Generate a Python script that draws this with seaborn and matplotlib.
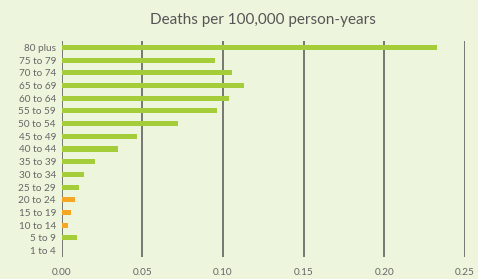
import pandas as pd
import matplotlib.pyplot as plt
import seaborn as sns

ages = ['80 plus', '75 to 79', '70 to 74', '65 to 69', '60 to 64', '55 to 59',
        '50 to 54', '45 to 49', '40 to 44', '35 to 39', '30 to 34', '25 to 29',
        '20 to 24', '15 to 19', '10 to 14', '5 to 9', '1 to 4']
deaths = [0.2327, 0.0951, 0.1056, 0.1131, 0.1038, 0.0963, 0.0722, 0.0468,
          0.0350, 0.0208, 0.0139, 0.0108, 0.0084, 0.0059, 0.0040, 0.0096, 0.0]
highlight = ['20 to 24', '15 to 19', '10 to 14']

df = pd.DataFrame({'age': ages, 'deaths': deaths})
df['group'] = ['hi' if a in highlight else 'lo' for a in df['age']]

bg = '#eef5dd'
sns.set_style('white')
plt.rcParams['font.family'] = ['Lato', 'DejaVu Sans']

fig = plt.figure(figsize=(4.78, 2.79), dpi=100, facecolor=bg)
ax = fig.add_axes([0.1287, 0.079, 0.8443, 0.774])
ax.set_facecolor(bg)

sns.barplot(data=df, y='age', x='deaths', hue='group', dodge=False,
            palette={'lo': '#a5cd39', 'hi': '#f5a623'}, width=0.4,
            saturation=1, linewidth=0, legend=False, ax=ax, orient='h')

ax.set_xlim(0, 0.25)
ax.set_ylim(len(ages) - 0.5, -0.5)
ax.set_xticks([0, 0.05, 0.10, 0.15, 0.20, 0.25])
ax.set_xticklabels(['0.00', '0.05', '0.10', '0.15', '0.20', '0.25'])
ax.grid(axis='x', color='#555555', lw=1.1)
ax.set_axisbelow(True)
for s in ax.spines.values():
    s.set_visible(False)
ax.tick_params(axis='both', length=0, labelsize=7.2, colors='#666666')
ax.tick_params(axis='x', pad=8)
ax.tick_params(axis='y', pad=4)
ax.set_xlabel('')
ax.set_ylabel('')
ax.set_title('Deaths per 100,000 person-years', fontsize=11, color='#555555', pad=12)

fig.savefig('out.png', dpi=100, facecolor=bg)
